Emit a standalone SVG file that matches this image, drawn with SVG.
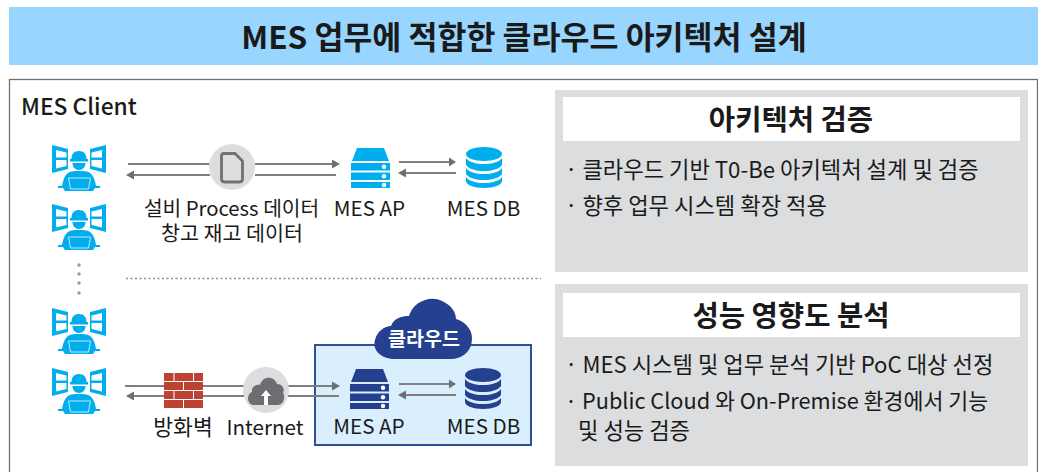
<svg xmlns="http://www.w3.org/2000/svg" xmlns:xlink="http://www.w3.org/1999/xlink" width="1038" height="472" viewBox="0 0 1038 472">
<style>
text{font-family:"Noto Sans CJK KR","Noto Sans",sans-serif;fill:#1a1a1a}
.lb{font-size:20.600px;text-anchor:middle}
.bd{font-size:22.200px}
.hd{font-size:28.600px;font-weight:700;text-anchor:middle}
.ln{stroke:#7f7f7f;stroke-width:2;fill:none}
.ah{fill:#6f6f6f}
</style>
<defs>
<g id="worker" fill="#00aeef">
<path d="M52 145L68 149V169L52 173ZM56 150V157.500H66.500V152.500ZM56 160V168.500L66.500 166V160Z" fill-rule="evenodd"/>
<path d="M106 145L90 149V169L106 173ZM102 150V157.500H91.500V152.500ZM102 160V168.500L91.500 166V160Z" fill-rule="evenodd"/>
<path d="M71.500 159C71.500 154 74 151 79 151C84 151 86.500 154 86.500 159H88V161.500H70V159Z"/>
<path d="M72.500 163H85.500C85.500 167 83 170 79 170C75 170 72.500 167 72.500 163Z"/>
<path d="M68 173C71 171 75 171 79 171C83 171 87 171 90 173C93 175 95 180 96 186H100V188H95L93 191H65L63 188H58V186H62C63 180 65 175 68 173Z"/>
<path d="M68.500 178H90.500L88.500 189H70.500Z" fill="none" stroke="#bfe9fb" stroke-width="1"/>
</g>
<g id="server">
<path d="M6 0H33L38 13H1Z"/>
<path d="M0 15H39V22.500H0ZM0 24.500H39V32H0ZM0 34H39V40H0Z"/>
<circle cx="33" cy="18.800" r="2.200" fill="#fff"/><circle cx="33" cy="28.200" r="2.200" fill="#fff"/><circle cx="33" cy="37" r="2.200" fill="#fff"/>
</g>
<g id="db">
<path d="M0 7C0 3 8 0 18 0C28 0 36 3 36 7C36 11 28 14 18 14C8 14 0 11 0 7Z"/>
<path d="M0 11C3 15 10 17 18 17C26 17 33 15 36 11V18C33 22 26 24 18 24C10 24 3 22 0 18Z"/>
<path d="M0 21C3 25 10 27 18 27C26 27 33 25 36 21V27C33 31 26 33 18 33C10 33 3 31 0 27Z"/>
<path d="M0 30C3 34 10 36 18 36C26 36 33 34 36 30V34C36 38 28 41 18 41C8 41 0 38 0 34Z"/>
</g>
</defs>
<rect width="1038" height="472" fill="#fff"/>
<g id="title"><rect x="9" y="7" width="1029" height="58" fill="#99d6ff"/>
<text x="524" y="49" text-anchor="middle" style="font-size:31.500px;font-weight:700">MES 업무에 적합한 클라우드 아키텍처 설계</text></g>
<rect id="frame" x="9.500" y="79.500" width="1028" height="410" fill="#fff" stroke="#707070" stroke-width="1.300"/>
<text x="21" y="115" style="font-size:22.800px;font-weight:500">MES Client</text>
<g id="connectors">
<path class="ln" d="M128 164H210M255 164H334"/><path class="ah" d="M332 159.500L340 164L332 168.500Z"/>
<path class="ln" d="M336 175H255M210 175H133"/><path class="ah" d="M134 170.500L126 175L134 179.500Z"/>
<path class="ln" d="M399 162H450"/><path class="ah" d="M449 157.500L456 162L449 166.500Z"/>
<path class="ln" d="M456 173H405"/><path class="ah" d="M406 168.500L398 173L406 177.500Z"/>
<g fill="#9a9a9a"><circle cx="79" cy="265" r="1.700"/><circle cx="79" cy="274" r="1.700"/><circle cx="79" cy="283" r="1.700"/><circle cx="79" cy="293" r="1.700"/></g>
<path d="M126 278.500H541" stroke="#909090" stroke-width="1.500" stroke-dasharray="2 2.500" fill="none"/>
</g>
<g id="workers">
<use href="#worker"/><use href="#worker" y="59"/><use href="#worker" y="163"/><use href="#worker" y="223"/>
</g>
<g id="doc"><circle cx="232" cy="167" r="23" fill="#dcdddf"/>
<path d="M221.500 156Q221.500 153.500 224 153.500H235L242.500 161V179Q242.500 182 239.500 182H224.500Q221.500 182 221.500 179Z" fill="none" stroke="#707173" stroke-width="2.800"/></g>
<g id="upper-ap" fill="#00aeef"><use href="#server" x="351" y="148"/></g>
<g id="upper-db" fill="#00aeef"><use href="#db" x="466" y="147"/></g>
<text class="lb" x="231.500" y="216"><tspan style="font-size:20.300px">설비 Process 데이터</tspan><tspan x="232" dy="25">창고 재고 데이터</tspan></text>
<text class="lb" x="369.500" y="216">MES AP</text>
<text class="lb" x="483.500" y="216">MES DB</text>
<g id="cloud-zone"><rect x="315" y="345" width="216" height="100" fill="#d9effe" stroke="#2e4f9c" stroke-width="2"/>
<path d="M395 359C380 359 372 349 375 340C377 331 385 326 391 326C394 318 402 316 409 316C413 302 430 295 442 301C451 305 456 312 456 319C466 322 472 330 472 338C472 352 462 359 450 359Z" fill="#24408e"/>
<text x="424" y="346" text-anchor="middle" style="font-size:19.500px;font-weight:700;fill:#fff">클라우드</text></g>
<g id="lower-connectors">
<path class="ln" d="M125 386H244M288 386H334"/><path class="ah" d="M332 381.500L340 386L332 390.500Z"/>
<path class="ln" d="M339 396H288M244 396H133"/><path class="ah" d="M134 391.500L126 396L134 400.500Z"/>
<path class="ln" d="M399 384H450"/><path class="ah" d="M449 379.500L456 384L449 388.500Z"/>
<path class="ln" d="M456 395H405"/><path class="ah" d="M406 390.500L398 395L406 399.500Z"/>
</g>
<g id="firewall"><rect x="164" y="373" width="39" height="35" fill="#bd4232"/>
<path d="M164 381.500H203M164 390.500H203M164 399.500H203M174 373V381M193.500 373V381M183.500 382V390M174 391V399M193.500 391V399M183.500 400V408" stroke="#fff" stroke-width="1" fill="none"/></g>
<text x="183" y="435" text-anchor="middle" style="font-size:21.500px">방화벽</text>
<g id="internet"><circle cx="266" cy="390" r="23" fill="#dcdddf"/>
<path d="M254 405C247 405 246 394 252 392C251 387 256 384 260 385C262 376 274 375 277 384C283 384 285 390 283 393C286 397 283 405 278 405Z" fill="#6d6e71"/>
<path d="M266 390L271 396H268V405H264V396H261Z" fill="#fff"/></g>
<text class="lb" x="265" y="435">Internet</text>
<g id="lower-ap" fill="#24408e"><use href="#server" x="350" y="369"/></g>
<g id="lower-db" fill="#24408e"><use href="#db" x="465" y="368"/></g>
<text class="lb" x="369" y="434">MES AP</text>
<text class="lb" x="483.500" y="434">MES DB</text>
<g id="panel-1"><rect x="555" y="90" width="473" height="182" fill="#dcdddf"/><rect x="563" y="97" width="457" height="44" fill="#fff"/>
<text class="hd" x="791" y="130">아키텍처 검증</text>
<text class="bd" x="565" y="178">· 클라우드 기반 T0-Be 아키텍처 설계 및 검증</text>
<text class="bd" x="565" y="214">· 향후 업무 시스템 확장 적용</text></g>
<g id="panel-2"><rect x="555" y="284" width="473" height="182" fill="#dcdddf"/><rect x="563" y="293" width="457" height="44" fill="#fff"/>
<text class="hd" x="791" y="326">성능 영향도 분석</text>
<text class="bd" x="565" y="373">· MES 시스템 및 업무 분석 기반 PoC 대상 선정</text>
<text class="bd" x="565" y="409" style="font-size:21.700px">· Public Cloud 와 On-Premise 환경에서 기능</text>
<text class="bd" x="578" y="439">및 성능 검증</text></g>
</svg>
